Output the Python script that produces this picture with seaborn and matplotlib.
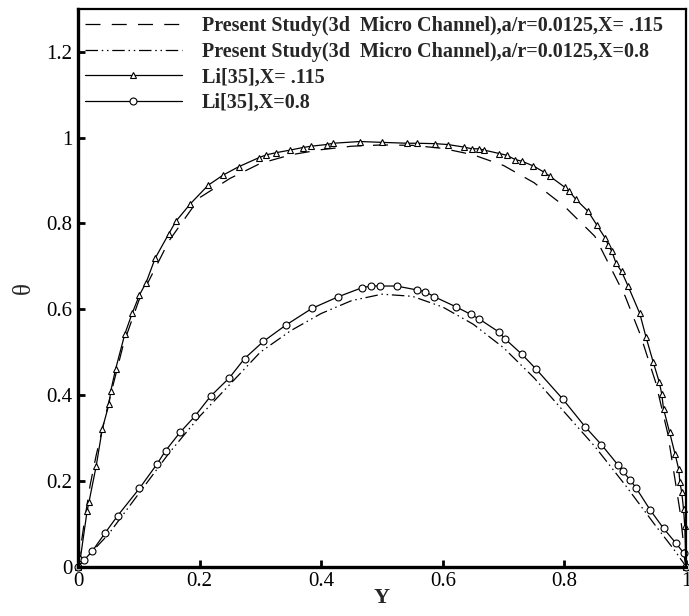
import matplotlib
matplotlib.use("Agg")
import matplotlib.pyplot as plt
import seaborn as sns
import pandas as pd
from matplotlib.ticker import FormatStrFormatter

# ---- data ----
present_115_y = [0.0, 0.01, 0.02, 0.03, 0.05, 0.075, 0.1, 0.15, 0.2, 0.25, 0.3, 0.35, 0.4, 0.45,
                 0.5, 0.55, 0.6, 0.65, 0.7, 0.75, 0.8, 0.85, 0.9, 0.925, 0.95, 0.97, 0.99, 1.0]
present_115_t = [0.0, 0.10, 0.19, 0.26, 0.38, 0.52, 0.62, 0.76, 0.86, 0.905, 0.94, 0.96, 0.972, 0.98,
                 0.983, 0.982, 0.975, 0.96, 0.935, 0.895, 0.84, 0.77, 0.63, 0.54, 0.43, 0.31, 0.13, 0.0]

present_08_y = [0.0, 0.02, 0.05, 0.1, 0.15, 0.2, 0.25, 0.3, 0.35, 0.4, 0.45, 0.5, 0.55, 0.6,
                0.65, 0.7, 0.75, 0.8, 0.85, 0.9, 0.95, 0.98, 1.0]
present_08_t = [0.0, 0.03, 0.075, 0.17, 0.265, 0.35, 0.425, 0.50, 0.55, 0.59, 0.62, 0.635, 0.63, 0.605,
                0.565, 0.51, 0.44, 0.36, 0.28, 0.19, 0.095, 0.04, 0.0]

li_115_y = [0.0, 0.004, 0.015, 0.018, 0.030, 0.040, 0.051, 0.054, 0.062, 0.077, 0.089, 0.101, 0.112,
            0.127, 0.149, 0.161, 0.185, 0.214, 0.239, 0.264, 0.297, 0.310, 0.326, 0.349, 0.370, 0.383,
            0.409, 0.420, 0.464, 0.50, 0.541, 0.557, 0.587, 0.608, 0.635, 0.648, 0.659, 0.668, 0.693,
            0.705, 0.719, 0.730, 0.749, 0.766, 0.776, 0.801, 0.808, 0.819, 0.839, 0.853, 0.867, 0.872,
            0.878, 0.885, 0.894, 0.905, 0.924, 0.934, 0.946, 0.956, 0.960, 0.963, 0.973, 0.982, 0.988,
            0.990, 0.993, 0.996, 0.998, 1.0]
li_115_t = [0.0, 0.02, 0.13, 0.15, 0.235, 0.321, 0.379, 0.41, 0.461, 0.542, 0.59, 0.633, 0.662,
            0.719, 0.775, 0.805, 0.846, 0.889, 0.913, 0.932, 0.953, 0.960, 0.965, 0.971, 0.977, 0.980,
            0.984, 0.987, 0.991, 0.989, 0.987, 0.987, 0.986, 0.984, 0.978, 0.974, 0.974, 0.971, 0.963,
            0.959, 0.949, 0.945, 0.934, 0.920, 0.910, 0.884, 0.875, 0.856, 0.828, 0.797, 0.766, 0.750,
            0.735, 0.707, 0.688, 0.653, 0.590, 0.536, 0.477, 0.430, 0.403, 0.368, 0.313, 0.262, 0.227,
            0.196, 0.173, 0.133, 0.094, 0.0]

li_08_y = [0.0, 0.01, 0.023, 0.044, 0.065, 0.101, 0.130, 0.144, 0.168, 0.192, 0.218, 0.249, 0.274,
           0.305, 0.342, 0.385, 0.428, 0.467, 0.482, 0.496, 0.524, 0.557, 0.571, 0.586, 0.621, 0.646,
           0.660, 0.692, 0.703, 0.730, 0.753, 0.797, 0.834, 0.861, 0.888, 0.896, 0.908, 0.918, 0.941,
           0.963, 0.983, 0.996, 1.0]
li_08_t = [0.0, 0.015, 0.035, 0.077, 0.118, 0.182, 0.239, 0.270, 0.313, 0.350, 0.397, 0.440, 0.485,
           0.525, 0.563, 0.602, 0.629, 0.650, 0.654, 0.654, 0.654, 0.645, 0.641, 0.629, 0.606, 0.588,
           0.577, 0.547, 0.530, 0.495, 0.461, 0.391, 0.326, 0.284, 0.237, 0.222, 0.202, 0.183, 0.132,
           0.089, 0.055, 0.032, 0.0]

labels = ["Present Study(3d  Micro Channel),a/r=0.0125,X= .115",
          "Present Study(3d  Micro Channel),a/r=0.0125,X=0.8",
          "Li[35],X= .115",
          "Li[35],X=0.8"]
x_ticks = [0, 0.2, 0.4, 0.6, 0.8, 1]
y_ticks = [0, 0.2, 0.4, 0.6, 0.8, 1, 1.2]

# ---- plotting ----
sns.set_style("ticks")
plt.rcParams['font.family'] = ['Liberation Serif', 'DejaVu Serif']

fig = plt.figure(figsize=(6.89, 6.16), dpi=100)
ax = fig.add_axes([78 / 689, 1 - 566.5 / 616, 608 / 689, (566.5 - 9) / 616])

df1 = pd.DataFrame({"Y": present_115_y, "T": present_115_t})
df2 = pd.DataFrame({"Y": present_08_y, "T": present_08_t})
df3 = pd.DataFrame({"Y": li_115_y, "T": li_115_t})
df4 = pd.DataFrame({"Y": li_08_y, "T": li_08_t})

sns.lineplot(data=df1, x="Y", y="T", ax=ax, sort=False, estimator=None, color="black",
             linewidth=0.9, linestyle=(0, (12, 9)), label=labels[0])
sns.lineplot(data=df2, x="Y", y="T", ax=ax, sort=False, estimator=None, color="black",
             linewidth=0.9, linestyle=(0, (10, 3, 1.2, 3, 1.2, 3)), label=labels[1])
sns.lineplot(data=df3, x="Y", y="T", ax=ax, sort=False, estimator=None, color="black",
             linewidth=0.9, marker="^", markersize=4, markerfacecolor="white",
             markeredgecolor="black", markeredgewidth=0.8, label=labels[2])
sns.lineplot(data=df4, x="Y", y="T", ax=ax, sort=False, estimator=None, color="black",
             linewidth=0.9, marker="o", markersize=5, markerfacecolor="white",
             markeredgecolor="black", markeredgewidth=0.8, label=labels[3])

for ln in ax.lines:
    ln.set_clip_on(False)

ax.set_xlim(0, 1)
ax.set_ylim(0, 1.3)
ax.set_xticks(x_ticks)
ax.set_yticks(y_ticks)
ax.xaxis.set_major_formatter(FormatStrFormatter('%g'))
ax.yaxis.set_major_formatter(FormatStrFormatter('%g'))
ax.tick_params(direction="in", length=5, width=2, labelsize=15, colors="black", pad=4)

for side in ["left", "bottom"]:
    ax.spines[side].set_linewidth(2.4)
for side in ["top", "right"]:
    ax.spines[side].set_linewidth(1.6)
for s in ax.spines.values():
    s.set_color("black")

ax.set_xlabel("Y", fontsize=16, fontweight="bold", labelpad=-2)
ax.set_ylabel("θ", fontsize=18, labelpad=8)

leg = ax.legend(loc="upper left", frameon=False, numpoints=1, handlelength=4.8,
                handletextpad=1.0, labelspacing=0.28, borderaxespad=0.1, borderpad=0.25,
                prop={"family": "Liberation Serif", "weight": "bold", "size": 14.5})

fig.savefig("out.png", dpi=100)
